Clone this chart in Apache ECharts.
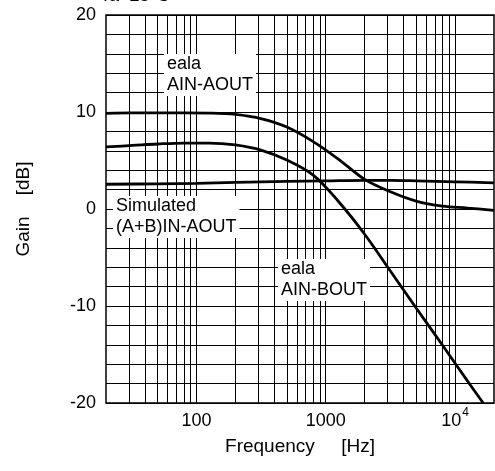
<!DOCTYPE html>
<html><head><meta charset="utf-8">
<script src="https://cdn.jsdelivr.net/npm/echarts@6/dist/echarts.min.js"></script>
<style>html,body{margin:0;padding:0;background:#fff}#c{width:495px;height:471px}</style>
</head><body><div id="c"></div>
<script>
// Frequencies (Hz) and gains (dB)
const freqA = [20, 32, 50, 80, 125, 200, 320, 500, 800, 1250, 2000, 3200, 5000, 8000, 12500, 20000];
const gainA = [9.85, 9.9, 9.9, 9.9, 9.88, 9.75, 9.3, 8.45, 6.95, 5.15, 3.05, 1.75, 0.82, 0.3, 0.1, -0.15];
const freqB = [20, 32, 50, 80, 125, 200, 320, 500, 800, 1250, 2000, 3200, 5000, 8000, 12500, 16500];
const gainB = [6.4, 6.55, 6.7, 6.8, 6.8, 6.6, 6.05, 5.05, 3.5, 0.8, -2.6, -6.5, -10.2, -14.05, -17.75, -20.0];
const freqC = [20, 50, 100, 200, 500, 1000, 2000, 3200, 5000, 10000, 20000];
const gainC = [2.55, 2.6, 2.65, 2.75, 2.85, 2.9, 2.95, 2.95, 2.9, 2.8, 2.7];
const gridFreqs = [30, 40, 50, 60, 70, 80, 90, 100, 200, 300, 400, 500, 600, 700, 800, 900, 1000, 2000, 3000, 4000, 5000, 6000, 7000, 8000, 9000, 10000];
const labelA = 'eala\nAIN-AOUT';
const labelB = 'eala\nAIN-BOUT';
const labelC = 'Simulated\n(A+B)IN-AOUT';
const titleText = 'Ta=25°C';
const xName = 'Frequency     [Hz]';
const yName = 'Gain    [dB]';

const FONT = '"Liberation Sans", Arial, sans-serif';
const zip = (xs, ys) => xs.map((x, i) => [x, ys[i]]);
const chart = echarts.init(document.getElementById('c'));
const curveStyle = { color: '#000', width: 2.8 };
function labelEl(text, x, y) {
  return { type: 'text', x: x, y: y, z: 100,
    style: { text: text, font: '18px ' + FONT, fill: '#000', lineHeight: 21,
      backgroundColor: '#fff', padding: [0, 3, 0, 3], verticalAlign: 'top', align: 'left' } };
}
chart.setOption({
  animation: false,
  backgroundColor: '#fff',
  textStyle: { fontFamily: FONT },
  grid: { left: 106, right: 1, top: 15, bottom: 68, show: true, borderColor: '#000', borderWidth: 1.5, backgroundColor: 'transparent' },
  xAxis: {
    type: 'log', logBase: 10, min: 20, max: 20000,
    name: xName, nameLocation: 'middle', nameGap: 34,
    nameTextStyle: { fontSize: 19, color: '#000', fontFamily: FONT },
    axisLine: { show: false }, axisTick: { show: false },
    splitLine: { show: false },
    axisLabel: {
      showMinLabel: false, showMaxLabel: false, margin: 4, color: '#000',
      formatter: function (v) {
        const e = Math.round(Math.log10(v));
        if (Math.abs(v - Math.pow(10, e)) > 1e-6 * v) return '';
        if (e >= 4) return '{n|10}{s|' + e + '}';
        return '{n|' + Math.pow(10, e) + '}';
      },
      rich: {
        n: { fontSize: 18, lineHeight: 20, padding: [8, 0, 0, 0], color: '#000', fontFamily: FONT },
        s: { fontSize: 12, verticalAlign: 'top', color: '#000', fontFamily: FONT, padding: [0, 0, 0, 1] }
      }
    }
  },
  yAxis: {
    type: 'value', min: -20, max: 20, interval: 10,
    name: yName, nameLocation: 'middle', nameGap: 73, nameRotate: 90,
    nameTextStyle: { fontSize: 19, color: '#000', fontFamily: FONT },
    axisLine: { show: false }, axisTick: { show: false },
    axisLabel: { fontSize: 18, color: '#000', margin: 10, fontFamily: FONT },
    splitLine: { show: true, lineStyle: { color: '#000', width: 1 } },
    minorTick: { show: false, splitNumber: 5 },
    minorSplitLine: { show: true, lineStyle: { color: '#000', width: 1 } }
  },
  series: [
    { type: 'line', name: 'AIN-AOUT', data: zip(freqA, gainA), showSymbol: false, smooth: 0.35, lineStyle: curveStyle, z: 10 },
    { type: 'line', name: 'AIN-BOUT', data: zip(freqB, gainB), showSymbol: false, smooth: 0.35, lineStyle: curveStyle, z: 10 },
    { type: 'line', name: 'Simulated', data: zip(freqC, gainC), showSymbol: false, smooth: 0.35, lineStyle: curveStyle, z: 10,
      markLine: { silent: true, symbol: ['none', 'none'], label: { show: false },
        lineStyle: { color: '#000', width: 1, type: 'solid' },
        emphasis: { disabled: true },
        data: gridFreqs.map(f => ({ xAxis: f })) } }
  ],
  graphic: [
    { type: 'text', x: 100, y: 5, z: 100, style: { text: titleText, font: '18px ' + FONT, fill: '#000', verticalAlign: 'bottom', align: 'left' } },
    labelEl(labelA, 164, 54),
    labelEl(labelC, 113, 196),
    labelEl(labelB, 278, 259)
  ]
});
</script></body></html>
